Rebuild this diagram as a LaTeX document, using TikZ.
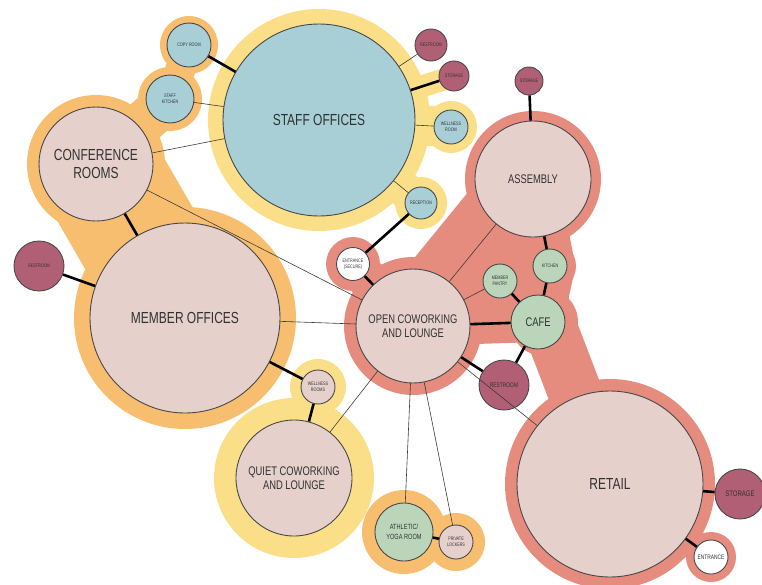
\documentclass[tikz,border=0pt]{standalone}
\usepackage{fontspec}
\setmainfont{Liberation Sans}[FakeStretch=0.75]
\usetikzlibrary{backgrounds}
\definecolor{staffblue}{RGB}{167,207,213}
\definecolor{roompink}{RGB}{229,208,204}
\definecolor{sage}{RGB}{187,213,187}
\definecolor{mauve}{RGB}{176,95,117}
\definecolor{orangeblob}{RGB}{248,190,112}
\definecolor{yellowblob}{RGB}{251,223,136}
\definecolor{salmonblob}{RGB}{229,140,127}
\definecolor{rimgray}{RGB}{72,72,72}
\definecolor{labelgray}{RGB}{50,50,50}
\definecolor{linkgray}{RGB}{60,60,55}

\begin{document}
\begin{tikzpicture}[x=1pt,y=-1pt,% one unit is one pixel of the sketch
		every node/.style={
			circle,draw=rimgray,line width=0.9pt,
			inner sep=0pt,align=center,text=labelgray
		},
		bigroom/.style={fill=roompink,font=\fontsize{16}{18}\selectfont},
		midroom/.style={fill=roompink,font=\fontsize{12.5}{14}\selectfont},
		tinylabel/.style={font=\fontsize{5}{5.6}\selectfont},
		smalllabel/.style={font=\fontsize{6.5}{7.5}\selectfont},
		band/.style={line cap=round,line join=round},
		link/.style={draw=linkgray,line width=0.6pt},
		heavy/.style={draw=black,line width=2.6pt}
	]
	\useasboundingbox (0,0) rectangle (762,584);

	% staff cluster
	\node[fill=staffblue,font=\fontsize{16}{18}\selectfont,minimum size=192pt](staff) at (319,120) {STAFF OFFICES};
	\node[fill=staffblue,tinylabel,minimum size=44pt](copyroom) at (189,45) {COPY ROOM};
	\node[fill=staffblue,tinylabel,minimum size=48pt](staffkitchen) at (170,99) {STAFF\\KITCHEN};
	\node[fill=mauve,tinylabel,minimum size=32pt](restroomA) at (431,45) {RESTROOM};
	\node[fill=mauve,tinylabel,minimum size=30pt](storageA) at (454,76) {STORAGE};
	\node[fill=staffblue,tinylabel,minimum size=34pt](wellnessA) at (451,127) {WELLNESS\\ROOM};
	\node[fill=staffblue,tinylabel,minimum size=32pt](reception) at (421,203) {RECEPTION};

	% member cluster
	\node[bigroom,minimum size=114pt](conf) at (96,164) {CONFERENCE\\ROOMS};
	\node[bigroom,minimum size=190pt](member) at (185,318) {MEMBER OFFICES};
	\node[fill=mauve,tinylabel,minimum size=50pt](restroomB) at (39,266) {RESTROOM};
	\node[fill=roompink,tinylabel,minimum size=34pt](wellnessB) at (318,387) {WELLNESS\\ROOMS};
	\node[midroom,minimum size=116pt](quiet) at (294,478) {QUIET COWORKING\\AND LOUNGE};

	% public cluster
	\node[midroom,minimum size=114pt](coworking) at (413,326) {OPEN COWORKING\\AND LOUNGE};
	\node[fill=white,tinylabel,minimum size=33pt](entrsecure) at (353,264) {ENTRANCE\\(SECURE)};
	\node[midroom,minimum size=116pt](assembly) at (533,179) {ASSEMBLY};
	\node[fill=mauve,tinylabel,minimum size=28pt](storageB) at (529,81) {STORAGE};
	\node[fill=sage,tinylabel,minimum size=34pt](pantry) at (500,281) {MEMBER\\PANTRY};
	\node[fill=sage,tinylabel,minimum size=34pt](kitchen) at (550,266) {KITCHEN};
	\node[fill=sage,font=\fontsize{12.5}{14}\selectfont,minimum size=54pt](cafe) at (538,322) {CAFE};
	\node[fill=mauve,smalllabel,minimum size=50pt](restroomC) at (504,385) {RESTROOM};
	\node[fill=sage,font=\fontsize{7.5}{10}\selectfont,minimum size=58pt](athletic) at (404,532) {ATHLETIC/\\YOGA ROOM};
	\node[fill=roompink,tinylabel,minimum size=34pt](lockers) at (456,542) {PRIVATE\\LOCKERS};
	\node[bigroom,minimum size=186pt](retail) at (610,484) {RETAIL};
	\node[fill=mauve,font=\fontsize{8}{9}\selectfont,minimum size=50pt](storageC) at (740,494) {STORAGE};
	\node[fill=white,smalllabel,minimum size=34pt](entrretail) at (711,557) {ENTRANCE};

	\path[link]
		(staffkitchen) edge (staff)
		(conf) edge (staff)
		(conf) edge (coworking)
		(member) edge (coworking)
		(staff) edge (restroomA)
		(staff) edge (wellnessA)
		(staff) edge (reception)
		(coworking) edge (assembly)
		(coworking) edge (pantry)
		(coworking) edge (quiet)
		(coworking) edge (athletic)
		(coworking) edge (lockers)
		(coworking) edge (retail)
		;
	\path[heavy]
		(copyroom) edge (staff)
		(restroomB) edge (member)
		(conf) edge (member)
		(member) edge (wellnessB)
		(wellnessB) edge (quiet)
		(staff) edge (storageA)
		(reception) edge (entrsecure)
		(entrsecure) edge (coworking)
		(storageB) edge (assembly)
		(assembly) edge (kitchen)
		(kitchen) edge (cafe)
		(pantry) edge (cafe)
		(coworking) edge (cafe)
		(coworking) edge (restroomC)
		(cafe) edge (restroomC)
		(athletic) edge (lockers)
		(retail) edge (storageC)
		(retail) edge (entrretail)
		;

	\begin{pgfonlayer}{background}
		% orange: conference and member offices
		\fill[orangeblob] (copyroom.center) circle (29pt) (staffkitchen.center) circle (32pt)
			(conf.center) circle (69pt) (member.center) circle (111pt);
		\draw[orangeblob,band,line width=30pt] (copyroom.center) -- (staffkitchen.center);
		\draw[orangeblob,band,line width=44pt] (staffkitchen.center) -- (conf.center);
		\draw[orangeblob,band,line width=124pt] (conf.center) -- (member.center);
		% yellow: staff offices
		\fill[yellowblob] (staff.center) circle (111pt) (wellnessA.center) circle (26pt)
			(reception.center) circle (26pt);
		\draw[yellowblob,band,line width=40pt] (staff.center) -- (wellnessA.center);
		\draw[yellowblob,band,line width=36pt] (staff.center) -- (reception.center);
		\draw[yellowblob,band,line width=22pt] (staff.center) -- (storageA.center);
		% salmon: coworking, assembly, cafe, retail
		\fill[salmonblob] (coworking.center) circle (69pt) (entrsecure.center) circle (27pt)
			(assembly.center) circle (68pt) (kitchen.center) circle (26pt)
			([xshift=6pt]cafe.center) circle (34pt) (retail.center) circle (105pt)
			(entrretail.center) circle (25pt);
		\fill[salmonblob] (coworking.center) -- (assembly.center) -- (cafe.center) -- cycle;
		\draw[salmonblob,band,line width=40pt] (coworking.center) -- (entrsecure.center);
		\draw[salmonblob,band,line width=84pt] (coworking.center) -- (assembly.center);
		\draw[salmonblob,band,line width=50pt] (assembly.center) -- (kitchen.center) -- (cafe.center);
		\draw[salmonblob,band,line width=40pt] (coworking.center) -- (cafe.center);
		\draw[salmonblob,band,line width=54pt] ([xshift=10pt]cafe.center) -- (retail.center);
		\draw[salmonblob,band,line width=30pt] (retail.center) -- (entrretail.center);
		% yellow: quiet coworking
		\fill[yellowblob] (quiet.center) circle (80pt) (wellnessB.center) circle (28pt);
		\draw[yellowblob,band,line width=36pt] (quiet.center) -- (wellnessB.center);
		% orange: athletic
		\fill[orangeblob] (athletic.center) circle (42pt) (lockers.center) circle (29pt);
		\draw[orangeblob,band,line width=44pt] (athletic.center) -- (lockers.center);
	\end{pgfonlayer}
\end{tikzpicture}
\end{document}
